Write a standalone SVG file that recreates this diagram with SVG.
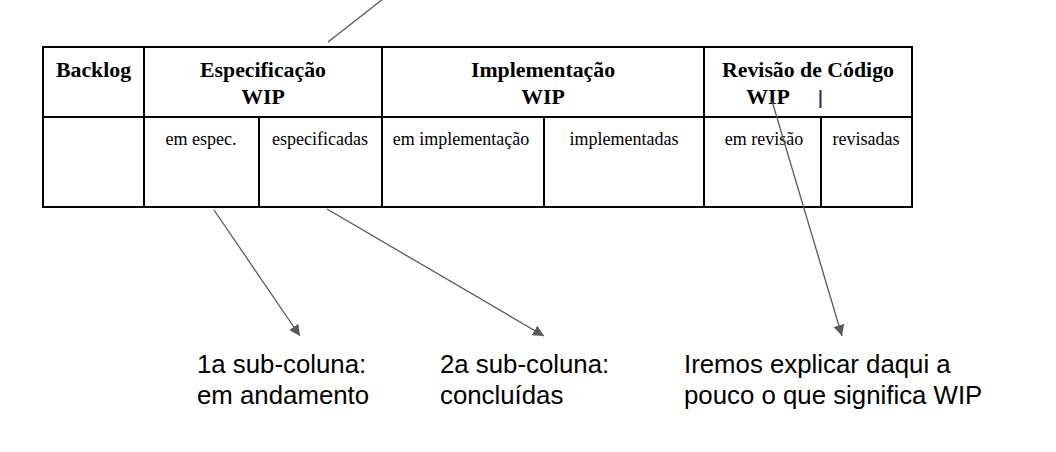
<svg xmlns="http://www.w3.org/2000/svg" width="1056" height="452" viewBox="0 0 1056 452">
<style>
.grid{stroke:#000;stroke-width:2;fill:none}
.h{font-family:"Liberation Serif",serif;font-weight:bold;font-size:21.8px;fill:#000;text-anchor:middle}
.s{font-family:"Liberation Serif",serif;font-size:18px;fill:#000;text-anchor:middle}
.n{font-family:"Liberation Sans",Arial,sans-serif;font-size:25.8px;fill:#000}
.c{stroke:#595959;stroke-width:1.3;fill:none}
</style>
<defs>
<marker id="ah" viewBox="0 0 10 10" refX="10" refY="5" markerWidth="11" markerHeight="11" markerUnits="userSpaceOnUse" orient="auto">
<path d="M0,0 L10,5 L0,10 z" fill="#595959"/>
</marker>
</defs>
<rect width="1056" height="452" fill="#fff"/>
<g id="table">
<rect class="grid" x="43" y="47" width="869" height="160"/>
<line class="grid" x1="43" y1="117" x2="912" y2="117"/>
<line class="grid" x1="144" y1="47" x2="144" y2="207"/>
<line class="grid" x1="382" y1="47" x2="382" y2="207"/>
<line class="grid" x1="704" y1="47" x2="704" y2="207"/>
<line class="grid" x1="259" y1="117" x2="259" y2="207"/>
<line class="grid" x1="544" y1="117" x2="544" y2="207"/>
<line class="grid" x1="821" y1="117" x2="821" y2="207"/>
</g>
<g id="col-backlog"><text class="h" x="93.5" y="77">Backlog</text></g>
<g id="col-espec"><text class="h" x="263" y="77">Especificação</text><text class="h" x="263" y="104">WIP</text></g>
<g id="col-impl"><text class="h" x="543" y="77">Implementação</text><text class="h" x="543" y="104">WIP</text></g>
<g id="col-rev"><text class="h" x="808" y="77">Revisão de Código</text><text class="h" x="768" y="104">WIP</text><line x1="820.5" y1="90" x2="820.5" y2="108" stroke="#1a237e" stroke-width="2"/></g>
<g id="sub-cols">
<text class="s" x="201" y="145">em espec.</text>
<text class="s" x="320" y="145">especificadas</text>
<text class="s" x="461" y="145">em implementação</text>
<text class="s" x="624" y="145">implementadas</text>
<text class="s" x="764" y="145">em revisão</text>
<text class="s" x="866" y="145">revisadas</text>
</g>
<g id="note1"><text class="n" x="197" y="373">1a sub-coluna:</text><text class="n" x="197" y="404">em andamento</text></g>
<g id="note2"><text class="n" x="440" y="373">2a sub-coluna:</text><text class="n" x="440" y="404">concluídas</text></g>
<g id="note3"><text class="n" x="684" y="373">Iremos explicar daqui a</text><text class="n" x="684" y="404">pouco o que significa WIP</text></g>
<g id="connectors">
<line class="c" x1="383" y1="-1" x2="328" y2="42"/>
<line class="c" x1="214" y1="210" x2="300" y2="336" marker-end="url(#ah)"/>
<line class="c" x1="327" y1="209" x2="544" y2="336" marker-end="url(#ah)"/>
<line class="c" x1="772" y1="101" x2="842" y2="336" marker-end="url(#ah)"/>
</g>
</svg>
